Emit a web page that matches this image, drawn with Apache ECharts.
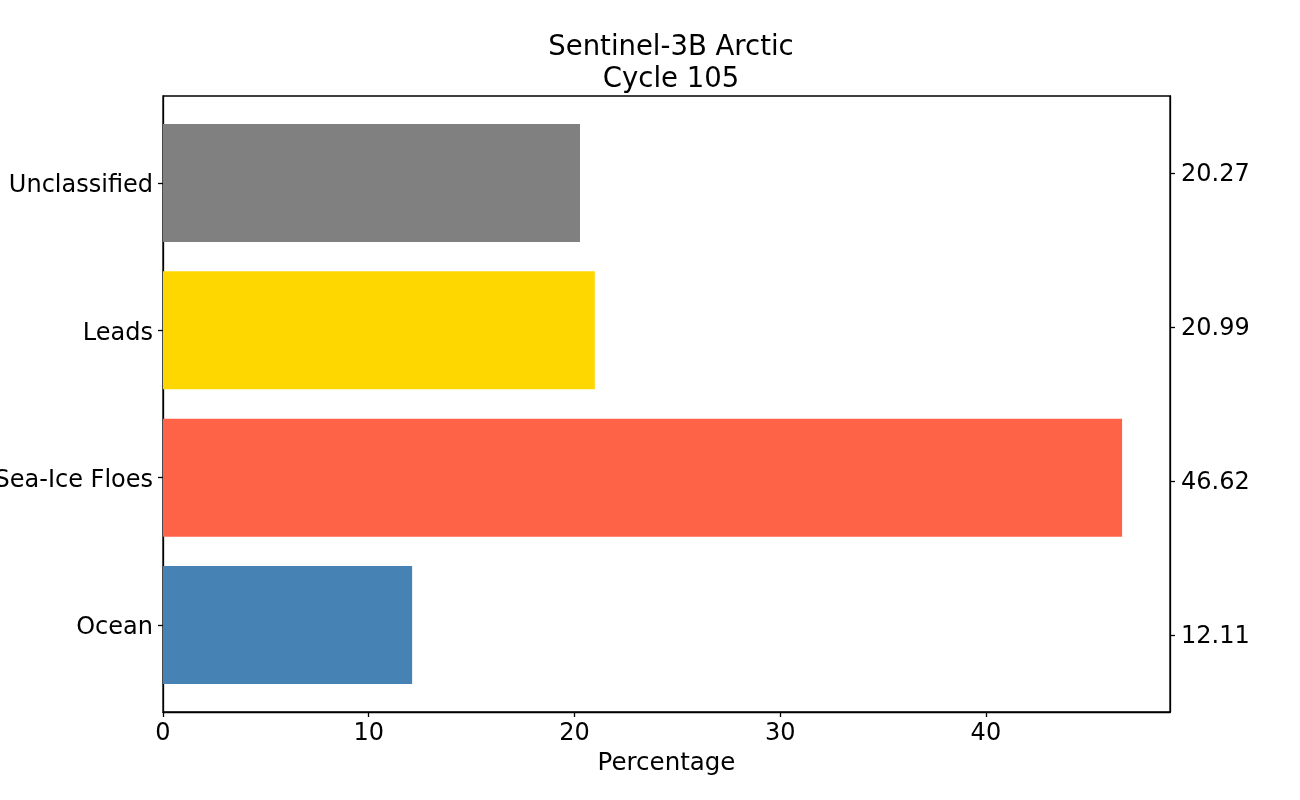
<!doctype html>
<html>
<head>
  <meta charset="utf-8">
  <script src="https://cdn.jsdelivr.net/npm/echarts@6/dist/echarts.min.js"></script>
  <style>
    html, body { margin: 0; padding: 0; background: #fff; }
    #chart { width: 1300px; height: 800px; }
  </style>
</head>
<body>
  <div id="chart"></div>
  <script type="text/javascript">
    // data
    var categories = ['Ocean', 'Sea-Ice Floes', 'Leads', 'Unclassified'];
    var values = [12.11, 46.62, 20.99, 20.27];
    var colors = ['#4682B4', '#FF6347', '#FFD700', '#808080'];
    var rightLabels = ['12.11', '46.62', '20.99', '20.27'];
    var xTicks = [0, 10, 20, 30, 40];

    var font = 'DejaVu Sans';
    var barData = [];
    for (var i = 0; i < values.length; i++) {
      barData.push([values[i], i]);
    }

    var myChart = echarts.init(document.getElementById('chart'));
    var option = {
      animation: false,
      backgroundColor: '#fff',
      title: {
        text: 'Sentinel-3B Arctic\nCycle 105',
        left: 666,
        top: 27,
        textAlign: 'center',
        textStyle: {
          fontFamily: font,
          fontSize: 27.5,
          fontWeight: 'normal',
          color: '#000',
          lineHeight: 32
        }
      },
      grid: {
        left: 163,
        right: 130,
        top: 96,
        bottom: 88,
        show: true,
        borderColor: '#000',
        borderWidth: 1.3,
        containLabel: false,
        outerBoundsMode: 'none'
      },
      xAxis: {
        type: 'value',
        min: 0,
        max: 48.95,
        name: 'Percentage',
        nameLocation: 'middle',
        nameGap: 38,
        nameTextStyle: { fontFamily: font, fontSize: 24.5, color: '#000' },
        axisLine: { show: true, onZero: false, lineStyle: { color: '#000', width: 1.3 } },
        axisTick: { show: true, length: 5, customValues: xTicks, lineStyle: { color: '#000', width: 1.3 } },
        axisLabel: { customValues: xTicks, margin: 10, fontFamily: font, fontSize: 24, color: '#000' },
        splitLine: { show: false }
      },
      yAxis: [{
        type: 'value',
        min: -0.59,
        max: 3.59,
        position: 'left',
        axisLine: { show: true, onZero: false, lineStyle: { color: '#000', width: 1.3 } },
        axisTick: { show: true, length: 5, customValues: [0, 1, 2, 3], lineStyle: { color: '#000', width: 1.3 } },
        axisLabel: {
          customValues: [0, 1, 2, 3],
          margin: 10,
          fontFamily: font,
          fontSize: 24,
          color: '#000',
          formatter: function (v) { return '{a|' + categories[Math.round(v)] + '}'; },
          rich: { a: { fontFamily: font, fontSize: 24, color: '#000', padding: [6, 0, 0, 0] } }
        },
        splitLine: { show: false }
      }, {
        type: 'value',
        min: -0.5,
        max: 3.5,
        position: 'right',
        axisLine: { show: true, onZero: false, lineStyle: { color: '#000', width: 1.3 } },
        axisTick: { show: true, length: 5, customValues: [0, 1, 2, 3], lineStyle: { color: '#000', width: 1.3 } },
        axisLabel: {
          customValues: [0, 1, 2, 3],
          margin: 11,
          fontFamily: font,
          fontSize: 24,
          color: '#000',
          formatter: function (v) { return '{a|' + rightLabels[Math.round(v)] + '}'; },
          rich: { a: { fontFamily: font, fontSize: 24, color: '#000', padding: [4, 0, 0, 0] } }
        },
        splitLine: { show: false }
      }],
      series: [{
        type: 'custom',
        xAxisIndex: 0,
        yAxisIndex: 0,
        data: barData,
        encode: { x: 0, y: 1 },
        renderItem: function (params, api) {
          var idx = api.value(1);
          var start = api.coord([0, idx]);
          var end = api.coord([api.value(0), idx]);
          var h = api.size([0, 0.8])[1];
          return {
            type: 'rect',
            shape: { x: start[0], y: start[1] - h / 2, width: end[0] - start[0], height: h },
            style: { fill: colors[idx] }
          };
        }
      }]
    };
    myChart.setOption(option);
  </script>
</body>
</html>
